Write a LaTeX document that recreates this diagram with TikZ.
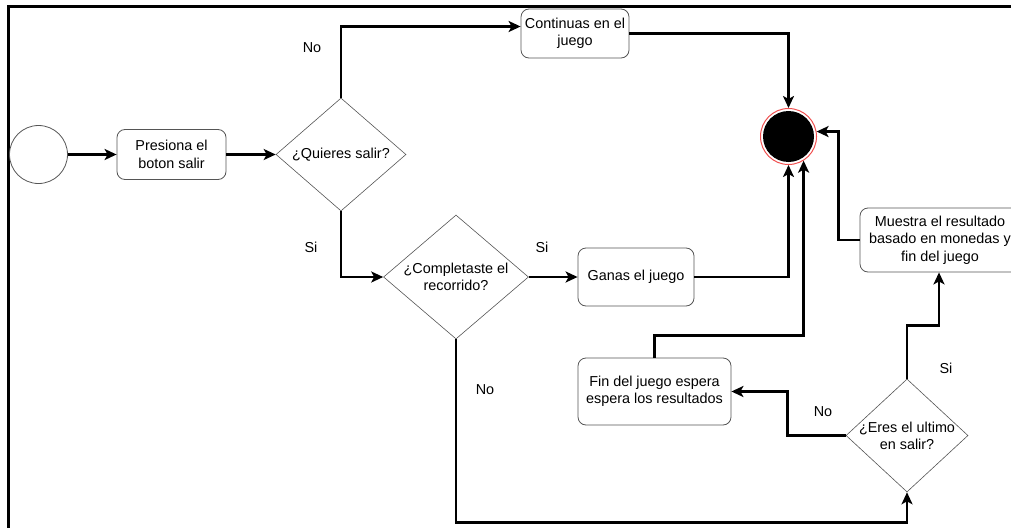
\documentclass[tikz,border=0pt]{standalone}
\usepackage{fontspec}
\setmainfont{Liberation Sans}
\usetikzlibrary{arrows.meta,shapes.geometric}
\definecolor{edgegray}{HTML}{555555}
\definecolor{endred}{HTML}{F05050}

\tikzset{
  box/.style={draw=edgegray,line width=0.8pt,rounded corners=8pt,align=center,inner sep=0pt},
  decision/.style={draw=edgegray,line width=0.6pt,diamond,inner sep=0pt},
  flow/.style={line width=2.6pt,-{Stealth[length=12pt,width=11pt,inset=3pt]}},
  lbl/.style={inner sep=0pt}
}

\begin{document}
\begin{tikzpicture}[x=1pt,y=-1pt,font=\fontsize{14.4}{17.3}\selectfont]
\useasboundingbox (0,0) rectangle (1011,527);
\draw[line width=3pt] (8,530) -- (8,7) -- (1015,7);

\node[draw=edgegray,line width=0.8pt,circle,minimum size=58pt] (start) at (38.5,154.5) {};
\node[box,minimum width=109pt,minimum height=50pt] (presiona) at (171.5,154.5) {Presiona el\\boton salir};
\node[decision,minimum width=130pt,minimum height=113pt,label={center:¿Quieres salir?}] (quieres) at (341,154.5) {};
\node[box,minimum width=108pt,minimum height=49pt] (continuas) at (575,33.5) {Continuas en el\\juego};
\node[circle,draw=endred,line width=1pt,minimum size=56pt,path picture={\fill (path picture bounding box.center) circle (25.5pt);}] (fin) at (788.5,136.5) {};
\node[decision,minimum width=145pt,minimum height=124pt,label={[align=center]center:¿Completaste el\\recorrido?}] (completaste) at (456,277) {};
\node[box,minimum width=116pt,minimum height=58pt] (ganas) at (636,277) {Ganas el juego};
\node[box,minimum width=160pt,minimum height=64pt] (muestra) at (940,240) {Muestra el resultado\\basado en monedas y\\fin del juego};
\node[box,minimum width=153pt,minimum height=67pt] (espera) at (654.5,391.5) {Fin del juego espera\\espera los resultados};
\node[decision,minimum width=122pt,minimum height=113pt,label={[align=center]center:¿Eres el ultimo\\en salir?}] (eres) at (907,435.5) {};

\node[lbl] (noquieres) at (312,48) {No}; \node[lbl] (siquieres) at (311,247) {Si};
\node[lbl] (sicompleta) at (542,247) {Si}; \node[lbl] (nocompleta) at (485,390) {No};
\node[lbl] (noeres) at (823,412) {No}; \node[lbl] (sieres) at (946,368) {Si};

\draw[flow] (start) -- (presiona); \draw[flow] (presiona) -- (quieres);
\draw[flow] (quieres.north) |- ([yshift=7pt]continuas.west);
\draw[flow] (continuas.east) -| (fin.north);
\draw[flow] (quieres.south) |- (completaste.west);
\draw[flow] (completaste.east) -- (ganas.west);
\draw[flow] (ganas.east) -| (fin.south);
\draw[flow] (espera.north) -- ++(0,-22) -| (fin.-58);
\draw[flow] (completaste.south) |- ([yshift=-30pt]eres.south) -- (eres.south);
\draw[flow] (eres.west) -- ++(-58,0) |- (espera.east);
\draw[flow] (eres.north) -- ++(0,-53) -| ([xshift=-1pt]muestra.south);
\draw[flow] (muestra.west) -- ++(-21,0) |- (fin.10);
\end{tikzpicture}
\end{document}
